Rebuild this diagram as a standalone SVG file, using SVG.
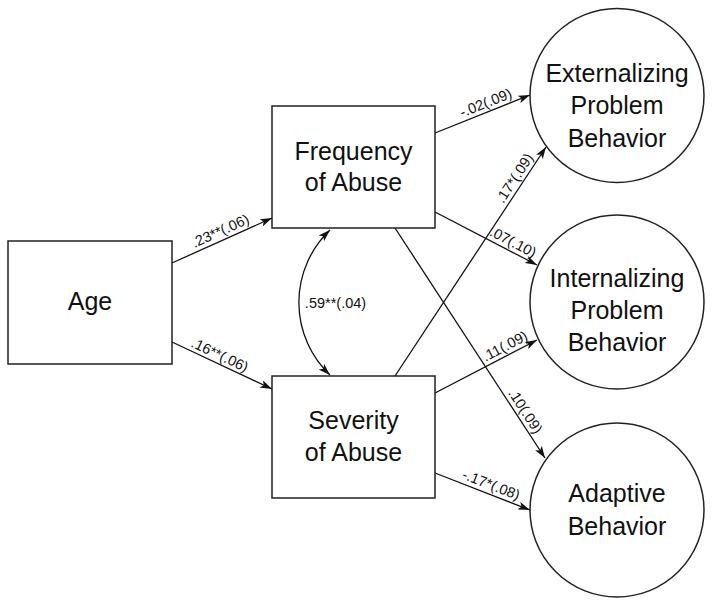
<svg xmlns="http://www.w3.org/2000/svg" width="714" height="606" viewBox="0 0 714 606">
<style>
.box{fill:#fff;stroke:#222;stroke-width:1.5}
.nt{font-family:"Liberation Sans",Arial,sans-serif;font-size:25px;fill:#111;text-anchor:middle}
.ln{fill:none;stroke:#111;stroke-width:1.3}
.lb{font-family:"Liberation Sans",Arial,sans-serif;font-size:14.5px;fill:#111;text-anchor:middle}
</style>
<defs>
<marker id="ah" viewBox="0 0 12 8" refX="12" refY="4" markerWidth="12" markerHeight="8" markerUnits="userSpaceOnUse" orient="auto-start-reverse">
<path d="M0,0 L12,4 L0,8 L3,4 Z" fill="#111"/>
</marker>
</defs>
<rect width="714" height="606" fill="#fff"/>
<g id="age"><rect class="box" x="8" y="241" width="164" height="123"/><text class="nt" x="90" y="310">Age</text></g>
<g id="frequency"><rect class="box" x="272" y="106" width="163" height="122"/><text class="nt" x="353.5" y="160">Frequency</text><text class="nt" x="353.5" y="191">of Abuse</text></g>
<g id="severity"><rect class="box" x="272" y="376" width="163" height="122"/><text class="nt" x="353.5" y="429">Severity</text><text class="nt" x="353.5" y="461">of Abuse</text></g>
<g id="externalizing"><circle class="box" cx="617" cy="95.5" r="87"/><text class="nt" x="617" y="82">Externalizing</text><text class="nt" x="617" y="114">Problem</text><text class="nt" x="617" y="147">Behavior</text></g>
<g id="internalizing"><circle class="box" cx="617" cy="302" r="87"/><text class="nt" x="617" y="287">Internalizing</text><text class="nt" x="617" y="319">Problem</text><text class="nt" x="617" y="351">Behavior</text></g>
<g id="adaptive"><circle class="box" cx="617" cy="510" r="87"/><text class="nt" x="617" y="502">Adaptive</text><text class="nt" x="617" y="535">Behavior</text></g>
<g id="connectors">
<line class="ln" x1="172" y1="263" x2="272" y2="218" marker-end="url(#ah)"/>
<line class="ln" x1="172" y1="342" x2="272" y2="389" marker-end="url(#ah)"/>
<path class="ln" d="M330,230 A100,100 0 0 0 330,375" marker-start="url(#ah)" marker-end="url(#ah)"/>
<line class="ln" x1="435" y1="133" x2="530" y2="95" marker-end="url(#ah)"/>
<line class="ln" x1="435" y1="212" x2="537" y2="265" marker-end="url(#ah)"/>
<line class="ln" x1="395" y1="228" x2="545" y2="458" marker-end="url(#ah)"/>
<line class="ln" x1="395" y1="376" x2="546" y2="147" marker-end="url(#ah)"/>
<line class="ln" x1="435" y1="393" x2="537" y2="340" marker-end="url(#ah)"/>
<line class="ln" x1="435" y1="473" x2="530" y2="510" marker-end="url(#ah)"/>
<text class="lb" transform="translate(224,239) rotate(-24.2)" y="-4">.23**(.06)</text>
<text class="lb" transform="translate(216,363) rotate(25.2)" y="-4">.16**(.06)</text>
<text class="lb" x="335.5" y="308">.59**(.04)</text>
<text class="lb" transform="translate(489,111) rotate(-21.8)" y="-4">-.02(.09)</text>
<text class="lb" transform="translate(522,183) rotate(-56.6)" y="-4">.17*(.09)</text>
<text class="lb" transform="translate(509,250) rotate(27.5)" y="-4">.07(.10)</text>
<text class="lb" transform="translate(509,354) rotate(-27.5)" y="-4">.11(.09)</text>
<text class="lb" transform="translate(518,416) rotate(56.9)" y="-4">.10(.09)</text>
<text class="lb" transform="translate(488,493) rotate(21.3)" y="-4">-.17*(.08)</text>
</g>
</svg>
